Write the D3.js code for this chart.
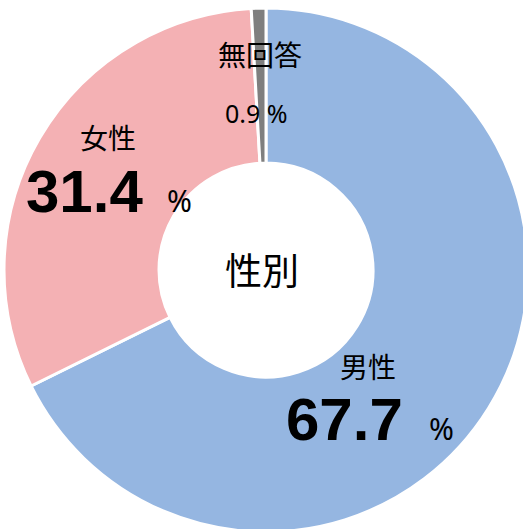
<!DOCTYPE html>
<html>
<head>
<meta charset="utf-8">
<script src="https://cdn.jsdelivr.net/npm/d3@7"></script>
<style>
  body { margin: 0; background: #fff; }
  text { font-family: "Noto Sans CJK JP", "Noto Sans", sans-serif; fill: #000; }
  .num { font-family: "Liberation Sans", "Open Sans", sans-serif; font-weight: bold; }
  .pct { font-family: "Noto Sans", sans-serif; }
</style>
</head>
<body>
<div id="chart"></div>
<script>
const categories = ["男性", "女性", "無回答"]
const values = [67.7, 31.4, 0.9]
const colors = ["#95b6e1", "#f4b1b4", "#7f7f7f"]
const centerTitle = "性別"

const width = 523, height = 529
const cx = 266, cy = 270
const outerR = 262, innerR = 107

const svg = d3.select("#chart")
  .append("svg")
    .attr("width", width)
    .attr("height", height)

const g = svg.append("g")
  .attr("transform", "translate(" + cx + "," + cy + ")")

const pie = d3.pie().sort(null).value(d => d)
const arc = d3.arc().innerRadius(innerR).outerRadius(outerR)

g.selectAll("path")
  .data(pie(values))
  .enter()
  .append("path")
    .attr("d", arc)
    .style("fill", (d, i) => colors[i])
    .style("stroke", "white")
    .style("stroke-width", 3)

g.append("text")
  .attr("text-anchor", "middle")
  .attr("x", -4)
  .attr("y", 15)
  .style("font-size", "37px")
  .text(centerTitle)

// label offsets from center, per slice
const labelPos = [
  {nx: 102, ny: 108, vx: 20, vy: 170, px: 163, small: false},
  {nx: -158, ny: -121, vx: -240, vy: -58, px: -99, small: false},
  {nx: -6, ny: -204, vx: -41, vy: -147, px: 14, small: true}
]

values.forEach((v, i) => {
  const p = labelPos[i]
  g.append("text")
    .attr("text-anchor", "middle")
    .attr("x", p.nx)
    .attr("y", p.ny)
    .style("font-size", "28px")
    .text(categories[i])
  if (p.small) {
    g.append("text")
      .attr("class", "pct")
      .attr("x", p.vx)
      .attr("y", p.vy)
      .style("font-size", "25px")
      .text(v + " %")
  } else {
    g.append("text")
      .attr("class", "num")
      .attr("x", p.vx)
      .attr("y", p.vy)
      .style("font-size", "60px")
      .text(v.toFixed(1))
    g.append("text")
      .attr("class", "pct")
      .attr("x", p.px)
      .attr("y", p.vy)
      .style("font-size", "30px")
      .text("%")
  }
})
</script>
</body>
</html>
